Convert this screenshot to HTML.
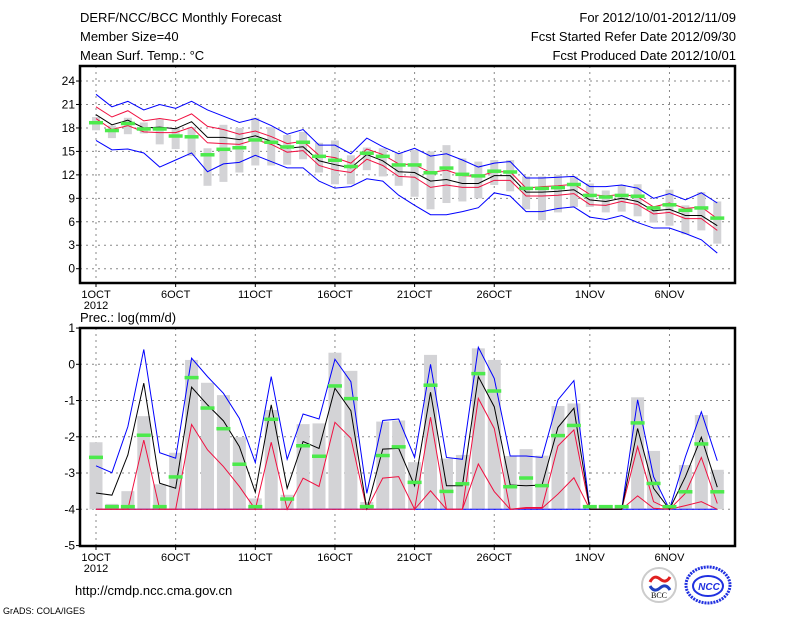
<!DOCTYPE html>
<html><head><meta charset="utf-8"><style>
body{margin:0;background:#fff;width:800px;height:618px;overflow:hidden}
svg{display:block;font-family:"Liberation Sans",sans-serif}
</style></head><body>
<svg id="chart" width="800" height="618" xmlns="http://www.w3.org/2000/svg">
<g font-size="13" fill="#000">
<text x="80" y="22">DERF/NCC/BCC Monthly Forecast</text>
<text x="80" y="41">Member Size=40</text>
<text x="80" y="60">Mean Surf. Temp.: °C</text>
<text x="736" y="22" text-anchor="end">For 2012/10/01-2012/11/09</text>
<text x="736" y="41" text-anchor="end">Fcst Started Refer Date 2012/09/30</text>
<text x="736" y="60" text-anchor="end">Fcst Produced Date 2012/10/01</text>
<text x="80" y="322">Prec.: log(mm/d)</text>
<text x="75" y="595">http://cmdp.ncc.cma.gov.cn</text>
<text x="3" y="614" font-size="9">GrADS: COLA/IGES</text>
</g>
<g>
<circle cx="659" cy="585" r="17" fill="#fff" stroke="#ccc" stroke-width="2"/>
<path d="M650 582 q4 -8 10 -3 q6 5 10 -2" fill="none" stroke="#e02020" stroke-width="3"/>
<path d="M650 586 q4 7 10 2 q6 -5 10 2" fill="none" stroke="#2040c0" stroke-width="3"/>
<text x="659" y="598" font-size="8" text-anchor="middle" font-family="Liberation Serif,serif">BCC</text>
</g>
<g>
<ellipse cx="708" cy="585" rx="22" ry="18" fill="none" stroke="#2030e0" stroke-width="3" stroke-dasharray="2 1"/>
<ellipse cx="708" cy="586" rx="15" ry="10" fill="none" stroke="#2030e0" stroke-width="2"/>
<text x="709" y="590" font-size="10" font-style="italic" font-weight="bold" text-anchor="middle" fill="#2030e0">NCC</text>
</g>
</svg>
<script>
// ---- data: days 1..40 (2012/10/01 - 2012/11/09)
const tBlueHi=[22.3,20.7,21.4,20.3,21.0,20.5,21.4,20.3,19.5,18.7,19.2,18.3,17.2,17.8,15.8,15.8,14.7,16.7,15.6,14.7,15.4,14.4,14.7,13.9,13.0,13.5,13.7,11.6,11.6,11.7,11.8,10.5,10.5,10.7,10.3,9.0,9.6,8.8,9.7,8.4];
const tRedHi=[20.7,19.4,20.2,18.9,19.2,18.9,19.8,18.2,17.8,17.2,17.6,16.9,16.0,16.3,14.5,14.2,13.5,15.3,14.6,13.4,13.3,12.3,12.6,11.9,11.8,12.4,12.4,10.3,10.5,10.6,10.8,9.5,9.3,9.5,9.2,7.9,8.4,7.7,7.9,6.4];
const tMean=[19.7,18.4,19.0,18.0,18.1,17.9,18.8,16.8,16.8,16.5,17.0,16.3,15.4,15.6,13.8,13.3,12.9,14.6,13.8,12.4,12.3,11.2,11.4,10.9,10.9,11.9,11.9,9.8,9.8,9.9,10.1,8.8,8.6,9.0,8.6,7.4,7.6,6.8,6.8,5.5];
const tRedLo=[19.2,17.8,18.3,17.5,17.4,17.4,18.1,16.1,16.0,15.9,16.5,15.9,14.9,15.1,13.2,12.6,12.3,14.0,13.2,11.8,11.7,10.4,10.7,10.4,10.4,11.3,11.3,9.3,9.3,9.4,9.6,8.2,8.1,8.6,8.2,7.0,7.2,6.4,6.4,4.9];
const tBlueLo=[16.4,15.2,15.3,14.8,13.0,13.9,14.8,12.4,13.4,13.6,14.5,13.7,12.9,12.9,11.2,10.3,10.5,11.5,11.2,9.4,8.1,6.9,6.9,7.3,7.8,9.7,9.3,7.3,7.3,7.7,7.9,6.6,6.3,6.8,5.9,5.2,5.2,4.5,3.7,2.0];
const tBarLo=[17.7,16.7,17.2,17.3,15.9,15.3,14.4,10.6,11.1,12.3,13.2,13.2,13.3,14.0,12.3,10.8,10.8,12.6,11.8,10.6,9.2,7.6,8.4,8.6,9.0,10.7,9.9,7.6,6.2,7.2,7.9,7.9,7.2,7.3,6.7,5.9,5.5,4.4,4.9,3.2];
const tBarHi=[19.4,18.3,19.3,18.7,19.1,18.0,18.1,15.4,18.4,18.0,19.3,18.1,17.1,17.5,16.1,16.4,14.5,15.5,15.4,14.8,15.2,15.0,15.8,14.1,13.7,13.9,13.9,11.8,11.8,12.0,11.8,10.9,10.0,10.7,10.8,8.0,10.1,8.1,9.8,8.6];
const tObs=[18.7,17.7,18.6,17.9,17.9,17.0,16.9,14.6,15.3,15.5,16.5,16.2,15.6,16.2,14.4,13.9,13.1,14.8,14.4,13.3,13.3,12.3,12.9,12.1,11.9,12.5,12.4,10.3,10.3,10.4,10.8,9.4,9.2,9.4,9.3,7.8,8.2,7.5,7.8,6.5];
const pBlue=[-2.8,-2.99,-1.72,0.41,-2.44,-2.59,0.17,-0.34,-0.8,-1.49,-2.71,-0.34,-2.62,-1.37,-1.51,0.14,-0.48,-3.56,-1.55,-1.51,-2.57,0.0,-2.57,-2.62,0.47,-0.39,-2.53,-2.53,-2.57,-0.98,-0.45,-4,-4,-4,-0.98,-3.1,-4,-2.55,-1.31,-2.66];
const pMean=[-3.55,-3.61,-2.5,-0.52,-3.28,-3.42,-0.63,-1.12,-1.56,-2.27,-3.53,-1.12,-3.42,-2.13,-2.32,-0.66,-1.28,-4,-2.34,-2.32,-3.35,-0.77,-3.35,-3.35,-0.34,-1.17,-3.33,-3.35,-3.33,-1.74,-1.21,-4,-4,-4,-1.77,-3.42,-4,-3.1,-2.01,-3.39];
const pRedHi=[-4,-4,-4,-2.09,-4,-4,-1.66,-2.36,-2.82,-3.37,-4,-2.15,-4,-3.14,-3.37,-1.6,-2.04,-4,-3.14,-3.1,-4,-1.46,-4,-4,-0.94,-1.77,-4,-3.95,-3.95,-2.25,-1.81,-4,-4,-4,-2.27,-3.79,-4,-3.56,-2.57,-3.84];
const pRedLo=[-4,-4,-4,-4,-4,-4,-4,-4,-4,-4,-4,-4,-4,-4,-4,-4,-4,-4,-4,-4,-4,-3.49,-4,-4,-2.75,-3.51,-4,-3.97,-3.97,-3.58,-3.13,-4,-4,-4,-3.63,-3.97,-4,-3.9,-3.79,-4];
const pBlueLo=[-4,-4,-4,-4,-4,-4,-4,-4,-4,-4,-4,-4,-4,-4,-4,-4,-4,-4,-4,-4,-4,-4,-4,-4,-4,-4,-4,-4,-4,-4,-4,-4,-4,-4,-4,-4,-4,-4,-4,-4];
const pBarHi=[-2.15,-3.85,-3.5,-1.43,-3.31,-2.44,0.12,-0.51,-0.85,-2.01,-3.7,-1.26,-3.6,-1.65,-1.63,0.32,-0.18,-3.8,-1.58,-1.55,-2.7,0.26,-2.6,-2.5,0.44,0.12,-2.53,-2.34,-2.52,-1.15,-1.08,-4,-4,-4,-0.91,-2.39,-3.9,-2.78,-1.4,-2.91];
const pObs=[-2.56,-3.92,-3.92,-1.95,-3.92,-3.1,-0.36,-1.2,-1.77,-2.75,-3.92,-1.51,-3.71,-2.24,-2.53,-0.59,-0.94,-3.92,-2.51,-2.27,-3.25,-0.57,-3.5,-3.29,-0.25,-0.73,-3.37,-3.13,-3.34,-1.96,-1.68,-3.92,-3.92,-3.92,-1.61,-3.28,-3.92,-3.51,-2.19,-3.51];
const xTickLabels=["1OCT","6OCT","11OCT","16OCT","21OCT","26OCT","1NOV","6NOV"];
const xTickDays=[1,6,11,16,21,26,32,37];
const tYTicks=[0,3,6,9,12,15,18,21,24];
const pYTicks=[-5,-4,-3,-2,-1,0,1];

const NS="http://www.w3.org/2000/svg";
const svg=document.getElementById('chart');
function mk(tag,attrs,parent){const e=document.createElementNS(NS,tag);for(const k in attrs)e.setAttribute(k,attrs[k]);(parent||svg).appendChild(e);return e;}
const xDay=d=>96+(d-1)*15.93;
const yT=v=>268.7-v*7.82;
const yP=v=>364.3-v*36.25;

function panel(name,top,bottom,yFn,yTicks,gridTicks){
  const g=mk('g',{});
  
  
  gridTicks.forEach(v=>{const l=mk('line',{x1:80,x2:735,y1:yFn(v),y2:yFn(v),stroke:'#888','stroke-dasharray':'2 4'},g);
    
    });
  xTickDays.forEach(d=>{const l=mk('line',{x1:xDay(d),x2:xDay(d),y1:top,y2:bottom,stroke:'#888','stroke-dasharray':'2 4'},g);
    
    });
  yTicks.forEach(v=>{const t=mk('text',{x:75,y:yFn(v)+4,'font-size':12,'text-anchor':'end'},g);t.textContent=v;
    
    
    mk('line',{x1:76,x2:80,y1:yFn(v),y2:yFn(v),stroke:'#000'},g);});
  xTickDays.forEach((d,i)=>{const t=mk('text',{x:xDay(d),y:bottom+15,'font-size':11,'text-anchor':'middle'},g);t.textContent=xTickLabels[i];
    
    
    mk('line',{x1:xDay(d),x2:xDay(d),y1:bottom,y2:bottom+4,stroke:'#000'},g);});
  const yr=mk('text',{x:xDay(1),y:bottom+26,'font-size':11,'text-anchor':'middle'},g);yr.textContent='2012';
  
  
  return g;
}
function bars(g,lo,hi,w,yFn,name){
  hi.forEach((h,i)=>{const l=typeof lo==='number'?lo:lo[i];const y1=yFn(h),y2=yFn(l);if(y2-y1<0.5)return;
    const r=mk('rect',{x:xDay(i+1)-w/2,y:y1,width:w,height:y2-y1,fill:'#d3d3d6'},g);
    
    });
}
function line(g,vals,yFn,color,name,w){
  const p=mk('polyline',{points:vals.map((v,i)=>xDay(i+1)+','+yFn(v)).join(' '),fill:'none',stroke:color,'stroke-width':w||1},g);
  
  
}
function obs(g,vals,yFn,name){
  vals.forEach((v,i)=>{const r=mk('rect',{x:xDay(i+1)-7,y:yFn(v)-1.5,width:14,height:3.5,fill:'#4cea4c'},g);
    
    });
}
// top panel
const gt=panel('temperature-panel',66,283,yT,tYTicks,tYTicks);
bars(gt,tBarLo,tBarHi,8,yT,'temp-ensemble-bar');
line(gt,tBlueHi,yT,'#0000ff','temp-upper-bound');
line(gt,tBlueLo,yT,'#0000ff','temp-lower-bound');
line(gt,tRedHi,yT,'#f01040','temp-upper-quartile');
line(gt,tRedLo,yT,'#f01040','temp-lower-quartile');
line(gt,tMean,yT,'#000','temp-ensemble-mean');
obs(gt,tObs,yT,'temp-observed-marker');
mk('rect',{x:80,y:66,width:655,height:217,fill:'none',stroke:'#000','stroke-width':2.5},gt);
// bottom panel
const gp=panel('precip-panel',328,546,yP,pYTicks,[-4,-3,-2,-1,0]);
bars(gp,-4,pBarHi,13,yP,'precip-ensemble-bar');
line(gp,pBlueLo,yP,'#0000ff','precip-lower-bound');
line(gp,pRedLo,yP,'#f01040','precip-lower-quartile');
line(gp,pBlue,yP,'#0000ff','precip-upper-bound');
line(gp,pRedHi,yP,'#f01040','precip-upper-quartile');
line(gp,pMean,yP,'#000','precip-ensemble-mean');
obs(gp,pObs,yP,'precip-observed-marker');
mk('rect',{x:80,y:328,width:655,height:218,fill:'none',stroke:'#000','stroke-width':2.5},gp);
</script>
</body></html>
